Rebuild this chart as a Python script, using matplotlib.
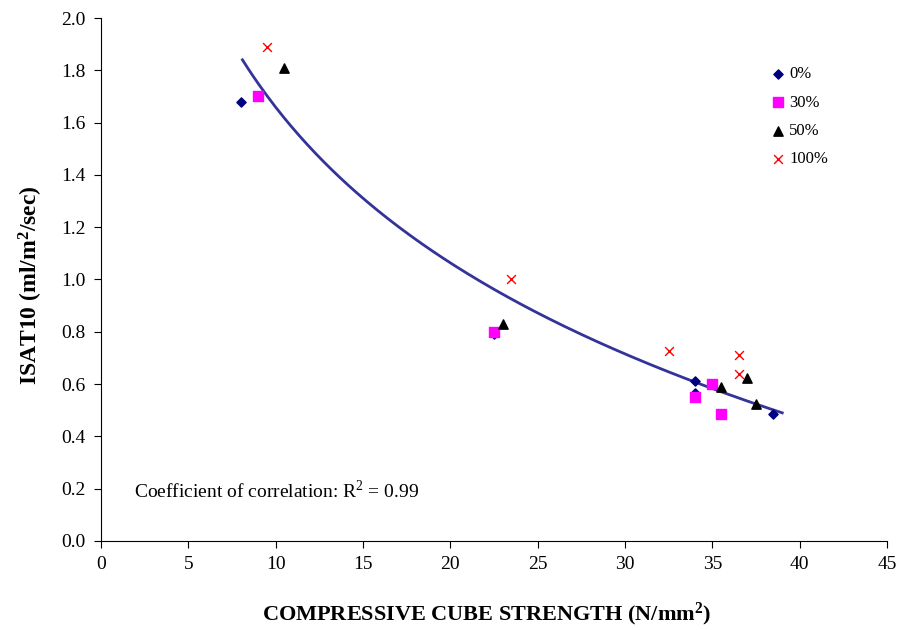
import numpy as np
import matplotlib
matplotlib.use('Agg')
from matplotlib import pyplot as plt

plt.rcParams['font.family'] = 'Liberation Serif'
plt.rcParams['mathtext.fontset'] = 'custom'
plt.rcParams['mathtext.rm'] = 'Liberation Serif'
plt.rcParams['mathtext.bf'] = 'Liberation Serif:bold'

# strength (N/mm2) and ISAT10 for each replacement level
x_0 = [8.0, 22.5, 34.0, 34.0, 38.5]
y_0 = [1.68, 0.79, 0.61, 0.565, 0.485]
x_30 = [9.0, 22.5, 34.0, 35.0, 35.5]
y_30 = [1.70, 0.80, 0.55, 0.60, 0.485]
x_50 = [10.5, 23.0, 35.5, 37.0, 37.5]
y_50 = [1.81, 0.83, 0.59, 0.625, 0.525]
x_100 = [9.5, 23.5, 32.5, 36.5, 36.5]
y_100 = [1.89, 1.00, 0.725, 0.71, 0.64]

# logarithmic trendline y = a + b ln(x)
fit_a = 3.637
fit_b = -0.859
fit_range = (8.1, 39.0)

fig = plt.figure(figsize=(8.99, 6.3), dpi=100)
ax = fig.add_axes([0.1123, 0.1413, 0.8744, 0.8301])

ax.scatter(x_0, y_0, marker='D', s=22, color='#000080', label='0%', zorder=3)
ax.scatter(x_30, y_30, marker='s', s=45, color='#ff00ff', label='30%', zorder=3)
ax.scatter(x_50, y_50, marker='^', s=45, color='black', label='50%', zorder=3)
ax.scatter(x_100, y_100, marker='x', s=40, color='red', linewidths=1.0, label='100%', zorder=3)

xs = np.linspace(fit_range[0], fit_range[1], 200)
ax.plot(xs, fit_a + fit_b * np.log(xs), color='#333399', lw=2, zorder=2)

ax.set_xlim(0, 45)
ax.set_ylim(0, 2.0)
ax.set_xticks(np.arange(0, 46, 5))
ax.set_yticks(np.arange(0, 2.01, 0.2))
ax.set_yticklabels(['%.1f' % v for v in np.arange(0, 2.01, 0.2)])
ax.tick_params(direction='out', length=5, labelsize=14, pad=6)
ax.spines['top'].set_visible(False)
ax.spines['right'].set_visible(False)

ax.set_xlabel('COMPRESSIVE CUBE STRENGTH (N/mm$\\mathbf{^2}$)', fontsize=16, fontweight='bold', labelpad=20)
ax.set_ylabel('ISAT10 (ml/m$\\mathbf{^2}$/sec)', fontsize=17, fontweight='bold', labelpad=12)
ax.xaxis.label.set_x(0.491)
ax.yaxis.label.set_y(0.489)

ax.text(1.9, 0.165, 'Coefficient of correlation: R$^2$ = 0.99', fontsize=14)

ax.legend(loc='upper right', bbox_to_anchor=(0.944, 0.936), frameon=False, fontsize=12,
          handletextpad=0.05, labelspacing=0.74, handlelength=1.2)

plt.savefig('out.png')
